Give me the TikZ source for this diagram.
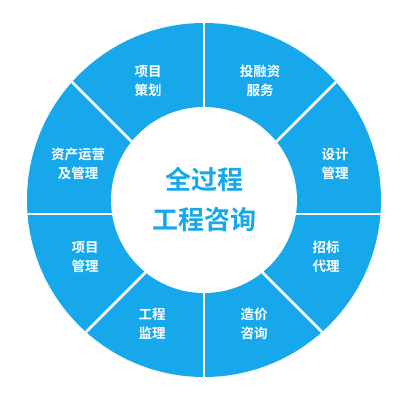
\documentclass[tikz,border=0pt]{standalone}
\usepackage{fontspec}
\usepackage{xcolor}
\usepackage{tikz}
\usetikzlibrary{positioning}
\newfontfamily\cjk{Noto Sans CJK SC}[BoldFont={Noto Sans CJK SC Bold}]
\definecolor{ringblue}{RGB}{22,168,234}

\begin{document}
\begin{tikzpicture}[x=1pt, y=1pt,
    seg/.style={font=\cjk\bfseries\fontsize{13.5}{19}\selectfont, text=white, align=center},
    hub/.style={font=\cjk\bfseries\fontsize{26}{40}\selectfont, text=ringblue, align=center},
    sep/.style={draw=white, line width=2.5pt}
]
\useasboundingbox (0,0) rectangle (407,400);
\coordinate (O) at (204,200);
\coordinate (M) at (204,186);
% ring and separators
\fill[ringblue] (O) circle (177);
\begin{scope}
\clip (O) circle (177);
\foreach \a in {0,45,...,315}
    \draw[sep] (M) -- ++(\a:230);
\end{scope}
\fill[white] (O) circle (93);
% labels
\node[hub] (core) at (O) {全过程\\工程咨询};
\node[seg] (plan) at (148,319) {项目\\策划};
\node[seg] (finance) at (260,319) {投融资\\服务};
\node[seg] (design) at (335,236) {设计\\管理};
\node[seg] (bid) at (326,143) {招标\\代理};
\node[seg] (cost) at (254,76) {造价\\咨询};
\node[seg] (super) at (152,76) {工程\\监理};
\node[seg] (pm) at (85,143) {项目\\管理};
\node[seg] (asset) at (78,236) {资产运营\\及管理};
\end{tikzpicture}
\end{document}
